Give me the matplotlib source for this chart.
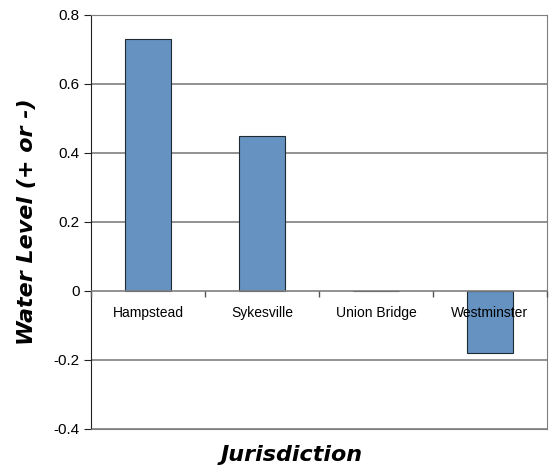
import numpy as np
import matplotlib.pyplot as plt
from matplotlib.transforms import offset_copy

towns = ["Hampstead", "Sykesville", "Union Bridge", "Westminster"]
levels = [0.73, 0.45, 0.0, -0.18]
yticks = [-0.4, -0.2, 0, 0.2, 0.4, 0.6, 0.8]

plt.rcParams["font.family"] = ["Liberation Sans", "DejaVu Sans"]
fig = plt.figure(figsize=(5.5, 4.67), dpi=100)
ax = fig.add_axes([0.1655, 0.0814, 0.829, 0.8866])

x = np.arange(len(towns))
ax.bar(x, levels, width=0.41, color="#6592C0", edgecolor="#1f2a33", lw=0.8, zorder=2)

ax.set_ylim(-0.4, 0.8)
ax.set_xlim(-0.5, len(towns) - 0.5)
ax.set_yticks(yticks)
ax.set_yticklabels(["0" if v == 0 else f"{v:g}" for v in yticks], fontsize=11)
ax.set_xticks([])
for v in yticks:
    ax.axhline(v, color="#7f7f7f", lw=1.2, zorder=1 if v else 3)

# zero line ticks at category boundaries
ax.plot(np.arange(len(towns) + 1) - 0.5, np.zeros(len(towns) + 1), ls="none",
        marker=3, ms=4, color="#555555", mew=1, clip_on=False, zorder=3)

tr = offset_copy(ax.transData, fig=fig, x=0, y=-15, units="dots")
for i, t in enumerate(towns):
    ax.text(i, 0, t, transform=tr, ha="center", va="top", fontsize=10, zorder=4)

for s in ["top", "right", "bottom"]:
    ax.spines[s].set_color("#7f7f7f")
ax.spines["left"].set_color("#222222")
ax.tick_params(axis="y", length=5, color="#222222", pad=3)

ax.set_ylabel("Water Level (+ or -)", fontsize=16, fontweight="heavy",
              style="italic", family="DejaVu Sans", labelpad=12)
fig.text(292 / 550, 1 - 455 / 467, "Jurisdiction", fontsize=16, fontweight="heavy",
         style="italic", family="DejaVu Sans", ha="center", va="center")

fig.savefig("out.png", dpi=100)
